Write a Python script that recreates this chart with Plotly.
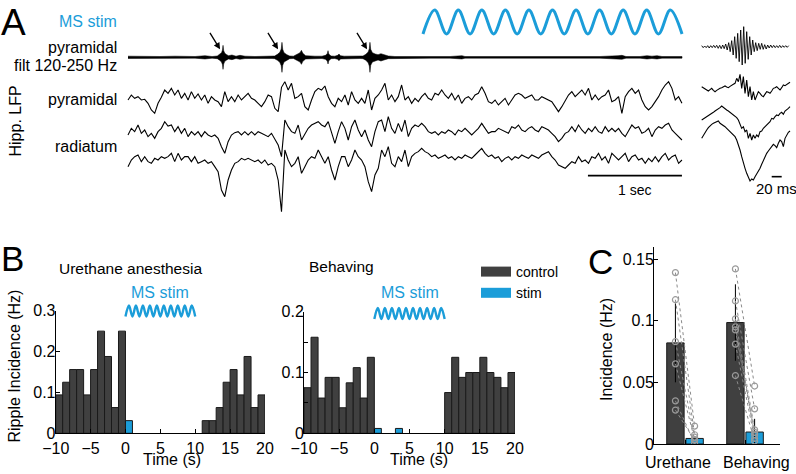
import numpy as np
import plotly.graph_objects as go

W, H = 796, 474


def px(x):
    return x / W


def py(y):
    return 1 - y / H


# ---------------- DATA ----------------
# Panel A: LFP traces (arbitrary units), uniformly sampled
lfp_dt = 0.0355  # s per sample
lfp_pyr = [0, 15, 5, 10, 0, 2, -10, -30, -40, -10,
           8, 30, 20, 35, 15, 30, 5, 20, 0, 25,
           5, 18, 0, 15, -10, 10, 0, -5, -20, 25,
           -5, 10, -5, 15, 0, 10, 20, 5, 0, -10,
           -20, -5, 15, 10, -25, -35, 38, 55, 30, 50,
           5, 10, 20, -20, -30, 0, 25, 35, 30, 42,
           10, -10, -20, 5, -5, 15, -15, 25, 0, -10,
           5, -10, 30, -30, 5, 15,
           30, 50, 0, 15, -5, 10, 45, 0, 10, -10,
           5, -5, 10, 20, 5, 0, 20, 15, 30, 15,
           5, 20, 0, 15, -10, 5, 10, 0, 15, 20,
           40, 20, -5, -10, 0, -15, -5, 5, -15, 0,
           15, 20, 15, 5, 10, 15, 0, 0, 10, 5,
           0, -5, -20, -35, -20, 0, 15, 25, 10, 20,
           30, 15, 35, 0, 15, 0, 10, 15, 30, -5,
           0, 10, -40, 10, 25, 35, 20, 30, 0, -20,
           -30, -20, -5, 10, 30, 45, 55, 35, 0, 10,
           -10]
lfp_rad1 = [-10, 10, 0, 20, -5, 5, -15, -5, -20, 0,
            10, 30, 17, 20, 0, 15, -5, 10, -15, 0,
            -10, 0, -15, 0, -10, -15, -10, -20, -45, -65,
            -30, -10, -3, 0, -10, 0, -10, 0, -10, 0,
            -5, -10, -15, -5, -25, -40, -75, 35, 15, 0,
            -5, 20, -25, -5, 10, 20, 25, 30, 20, 15,
            30, -5, -35, 0, 30, 10, -25, 15, 35, 5,
            -15, 5, -25, -45, 0, 30,
            35, 0, 45, 10, -5, 25, 0, 35, -15, 10,
            20, 15, 25, 15, 0, -5, 0, -10, 0, -5,
            5, 0, -10, 5, 0, 10, 0, -10, 0, 10,
            25, 10, -5, 0, 0, 10, 5, 0, -5, 15,
            10, 20, 5, 0, 10, 15, 5, 0, 15, 10,
            5, -5, -15, -30, -20, -5, 0, 15, 0, 20,
            5, -5, 10, 0, 15, 0, -5, 15, 0, 10,
            0, 10, -5, -15, 5, 20, 10, 15, -5, 0,
            10, -15, 5, 15, 10, 20, 25, 5, -5, -15,
            -25]
lfp_rad2 = [-25, -5, 5, 10, -10, 5, -10, -15, 0, -5,
            5, 0, 5, 15, -10, 15, -5, 5, 5, -10,
            5, -15, -10, -5, -15, -10, -25, -40, -95, -115,
            -65, -35, -15, -10, 0, -5, 0, -5, -10, -5,
            -15, -5, -20, -15, -25, -65, -160, 25, -5, -25,
            -15, 5, -45, -25, -5, 5, 0, 25, 5, -15,
            5, -35, -65, -25, 5, 5, -25, -5, 25, 5,
            -5, -25, -70, -100, -50, -30,
            25, 5, 35, -15, -25, 5, -10, 25, -25, 5,
            15, 20, 30, 20, 15, 5, 10, 0, 5, 10,
            0, 5, -5, 5, 0, 10, 5, 0, 10, 20,
            30, 15, 5, 10, 0, 5, -10, 0, 5, -5,
            5, 0, 10, 5, 0, 10, 5, 0, 10, 15,
            20, 5, -5, -20, -25, -30, -20, -10, -15, 5,
            -10, -5, -15, 5, 0, 15, -5, 5, -15, 15,
            5, -5, 5, 15, -10, 5, 10, -5, 0, -15,
            0, -10, 5, -10, 5, 15, -5, 5, 10, -15,
            -5]
# ripple-band (120-250 Hz) envelope of the pyramidal trace
filt_env_t = [0, 0.128, 0.234, 0.340, 0.500, 0.606, 0.713, 0.819, 0.894,
              0.950, 0.975, 0.995, 1.005, 1.011, 1.018, 1.030, 1.050, 1.070, 1.106, 1.149,
              1.191, 1.245, 1.351, 1.457, 1.532,
              1.560, 1.590, 1.615, 1.630, 1.638, 1.646, 1.660, 1.690, 1.720, 1.760,
              1.798, 1.830, 1.845, 1.860, 1.890, 1.930, 1.989, 2.064,
              2.100, 2.120, 2.128, 2.136, 2.160, 2.200, 2.230, 2.245, 2.260, 2.300,
              2.362, 2.468, 2.500, 2.530, 2.555, 2.567, 2.574, 2.582, 2.600, 2.630,
              2.660, 2.691, 2.723, 2.770, 2.840, 3.000, 3.213, 3.426, 3.553, 3.585,
              3.851, 4.170, 4.596, 5.021, 5.213, 5.255, 5.298, 5.447, 5.521, 5.574,
              5.628, 5.681, 5.894]
filt_env = [3.5, 2.5, 3.5, 2.5, 3.5, 2.5, 2.5, 5, 2.5,
            4, 9, 14, 22, 36, 20, 12, 8, 5, 7, 3.5,
            6, 3.5, 2.5, 3.5, 3.5,
            4, 9, 15, 25, 45, 24, 14, 8, 4, 3.5,
            8, 14, 21, 12, 5, 3.5, 3.5, 3.5,
            6, 11, 20, 10, 4, 3.5, 6, 10, 5, 3.5,
            3.5, 3.5, 4, 9, 16, 26, 45, 24, 14, 10,
            8, 11, 8, 4, 2.5, 2.5, 2.5, 2.5, 5, 2.5,
            2.5, 2.5, 2.5, 2.5, 5, 6, 2.5, 2.5, 5, 3.5,
            5, 2.5, 2.5]
ripple_times = [0.979, 1.596, 2.543]
# MS stimulation (extrema of the sinusoidal drive)
stim_ext_t = [3.138, 3.263, 3.389, 3.514, 3.639, 3.764, 3.890, 4.015, 4.140, 4.265,
              4.391, 4.516, 4.641, 4.767, 4.892, 5.017, 5.142, 5.268, 5.393, 5.518,
              5.643, 5.769, 5.894]
stim_ext_v = [-1, 1, -1, 1, -1, 1, -1, 1, -1, 1, -1, 1,
              -1, 1, -1, 1, -1, 1, -1, 1, -1, 1, -1]

# Panel A insets: average ripple (ms sampling)
inset_dt = 3.333
inset_filt_dt = 3.0
inset_filt = [3, -3, 2, -3, 3, -4, 3, -3, 4, -3, 4, -5, 4, -6, 5, -6, 8, -10, 12, -15,
              18, -25, 30, -35, 40, -45, 50, -55, 60, -50, 45, -38, 30, -25, 20, -15, 12, -12, 10, -8,
              10, -8, 6, -7, 5, -4, 5, -3, 4, -3, 3, -3, 4, -3, 3, -2, 3, -2, 3]
inset_pyr = [0, -3, -7, -10, -13, -9, -5, -11, -15, -11, -7, -5, -3, -1, 2, -1, -3, 1, 5, 7,
             10, 25, 15, 37, -5, 30, -20, 20, -30, 0, -40, -15, -40, -25, -15, -20, -27, -30, -20, -15,
             -17, -20, -13, -5, -3, 0, -5, -10, -3, 5, 3, 7, 10, 13]
inset_rad1 = [5, 8, 12, 15, 18, 22, 25, 28, 32, 35, 38, 42, 47, 42, 38, 35, 32, 28, 25, 22,
              18, 12, 5, -5, -20, -15, -30, -25, -50, -35, -55, -40, -50, -40, -45, -30, -28, -20, -15, -10,
              -2, 0, 10, 8, 15, 20, 18, 25, 28, 22, 32, 35, 40, 45]
inset_rad2 = [0, 10, 18, 25, 32, 38, 42, 45, 48, 50, 52, 45, 42, 40, 35, 30, 25, 22, 18, 12,
              5, -5, -18, -35, -55, -75, -90, -105, -120, -128, -122, -125, -115, -108, -100, -90, -78, -65, -55, -45,
              -38, -32, -25, -18, -22, -28, -15, -5, -10, -25, 0, 10, 18, 22]

# Panel B: ripple incidence histograms (1-s bins, left edges)
ure_ctrl_t = [-10, -9, -8, -7, -6, -5, -4, -3, -2, -1, 11, 12, 13, 14, 15, 16, 17, 18, 19]
ure_ctrl_h = [0.094, 0.125, 0.156, 0.156, 0.094, 0.156, 0.25, 0.188, 0.063, 0.25,
              0.031, 0.031, 0.063, 0.125, 0.156, 0.094, 0.188, 0.063, 0.094]
ure_stim_t = [0]
ure_stim_h = [0.031]
beh_ctrl_t = [-10, -9, -8, -7, -6, -5, -4, -3, -2, -1, 10, 11, 12, 13, 14, 15, 16, 17, 18, 19]
beh_ctrl_h = [0.075, 0.158, 0.058, 0.092, 0.092, 0.042, 0.083, 0.108, 0.058, 0.125,
              0.067, 0.125, 0.092, 0.1, 0.1, 0.125, 0.1, 0.092, 0.075, 0.1]
beh_stim_t = [0, 3]
beh_stim_h = [0.008, 0.008]
bstim_ext_t = [0, 0.5, 1, 1.5, 2, 2.5, 3, 3.5, 4, 4.5, 5, 5.5, 6, 6.5, 7, 7.5, 8, 8.5, 9, 9.5, 10]
bstim_ext_v = [-1, 1, -1, 1, -1, 1, -1, 1, -1, 1, -1, 1, -1, 1, -1, 1, -1, 1, -1, 1, -1]
legend_names = ['control', 'stim']

# Panel C: incidence summary
c_groups = ['Urethane', 'Behaving']
c_ctrl_mean = [0.082, 0.0985]
c_ctrl_err = [0.032, 0.031]
c_stim_mean = [0.0045, 0.0097]
c_stim_err = [0.002, 0.0107]
c_ctrl_pts = [[0.139, 0.117, 0.083, 0.065, 0.035, 0.0275],
              [0.142, 0.116, 0.1015, 0.095, 0.0925, 0.081, 0.0555]]
c_stim_pts = [[0.0145, 0.0075, 0.0055, 0.0035, 0.0005, 0.003],
              [0.047, 0.0285, 0.0115, 0.0095, 0.0075, 0.0045, 0.0025]]

# ---------------- STYLE ----------------
BLUE = '#1B9DD9'
DARK = '#404040'
FONT = 'Liberation Sans, Arial, Helvetica, sans-serif'
OFF_STIM, AMP_STIM = -66, 36
OFF_FILT, OFF_PYR, OFF_RAD1, OFF_RAD2 = -172, -300, -395, -475
IOFF_FILT, IOFF_PYR, IOFF_RAD1, IOFF_RAD2 = -140, -260, -365, -415
COFF = 0.16

fig = go.Figure()
lfp_line = dict(color='black', width=1.1)

# ----- Panel A main traces -----
fig.add_trace(go.Scatter(x=stim_ext_t, y=OFF_STIM + AMP_STIM * np.array(stim_ext_v), mode='lines',
                         line=dict(color=BLUE, width=3, shape='spline', smoothing=1.0),
                         xaxis='x', yaxis='y', showlegend=False, hoverinfo='skip'))
et = np.array(filt_env_t)
ev = np.array(filt_env)
fig.add_trace(go.Scatter(x=np.concatenate([et, et[::-1]]),
                         y=np.concatenate([OFF_FILT + ev, (OFF_FILT - ev)[::-1]]),
                         mode='lines', fill='toself', fillcolor='black',
                         line=dict(color='black', width=0.5),
                         xaxis='x', yaxis='y', showlegend=False, hoverinfo='skip'))
for vals, off in [(lfp_pyr, OFF_PYR), (lfp_rad1, OFF_RAD1), (lfp_rad2, OFF_RAD2)]:
    t = np.arange(len(vals)) * lfp_dt
    fig.add_trace(go.Scatter(x=t, y=off + np.array(vals), mode='lines', line=lfp_line,
                             xaxis='x', yaxis='y', showlegend=False, hoverinfo='skip'))
# 1 sec scale bar
t_end = (len(lfp_pyr) - 1) * lfp_dt
fig.add_trace(go.Scatter(x=[t_end - 1.0, t_end], y=[-527, -527], mode='lines',
                         line=dict(color='black', width=1.6),
                         xaxis='x', yaxis='y', showlegend=False, hoverinfo='skip'))

# ----- Panel A insets -----
ti = np.arange(len(inset_filt)) * inset_filt_dt
fig.add_trace(go.Scatter(x=ti, y=IOFF_FILT + np.array(inset_filt), mode='lines',
                         line=dict(color='black', width=0.9),
                         xaxis='x2', yaxis='y2', showlegend=False, hoverinfo='skip'))
for vals, off in [(inset_pyr, IOFF_PYR), (inset_rad1, IOFF_RAD1), (inset_rad2, IOFF_RAD2)]:
    t = np.arange(len(vals)) * inset_dt
    fig.add_trace(go.Scatter(x=t, y=off + np.array(vals), mode='lines', line=lfp_line,
                             xaxis='x2', yaxis='y2', showlegend=False, hoverinfo='skip'))
fig.add_trace(go.Scatter(x=[140, 160], y=[-530, -530], mode='lines',
                         line=dict(color='black', width=1.6),
                         xaxis='x2', yaxis='y2', showlegend=False, hoverinfo='skip'))

# ----- Panel B histograms -----
bar_line = dict(color='#1a1a1a', width=1)
fig.add_trace(go.Bar(x=ure_ctrl_t, y=ure_ctrl_h, width=1, offset=0, name='control',
                     marker=dict(color=DARK, line=bar_line), xaxis='x3', yaxis='y3',
                     showlegend=False))
fig.add_trace(go.Bar(x=ure_stim_t, y=ure_stim_h, width=1, offset=0, name='stim',
                     marker=dict(color=BLUE, line=bar_line), xaxis='x3', yaxis='y3',
                     showlegend=False))
fig.add_trace(go.Bar(x=beh_ctrl_t, y=beh_ctrl_h, width=1, offset=0, name='control',
                     marker=dict(color=DARK, line=bar_line), xaxis='x4', yaxis='y4',
                     showlegend=False))
fig.add_trace(go.Bar(x=beh_stim_t, y=beh_stim_h, width=1, offset=0, name='stim',
                     marker=dict(color=BLUE, line=bar_line), xaxis='x4', yaxis='y4',
                     showlegend=False))
# legend swatches (wide, as in the original)
for name, col in zip(legend_names, [DARK, BLUE]):
    fig.add_trace(go.Scatter(x=[None], y=[None], mode='lines', name=name,
                             line=dict(color=col, width=10), xaxis='x3', yaxis='y3',
                             showlegend=True))
for xa, ya in [('x5', 'y5'), ('x6', 'y6')]:
    fig.add_trace(go.Scatter(x=bstim_ext_t, y=bstim_ext_v, mode='lines',
                             line=dict(color=BLUE, width=2.4, shape='spline', smoothing=1.0),
                             xaxis=xa, yaxis=ya, showlegend=False, hoverinfo='skip'))

# ----- Panel C -----
gpos = np.arange(1, len(c_groups) + 1)
fig.add_trace(go.Bar(x=gpos - COFF, y=c_ctrl_mean, width=0.29,
                     marker=dict(color=DARK, line=bar_line),
                     error_y=dict(type='data', array=c_ctrl_err, color='black', thickness=1, width=0),
                     xaxis='x7', yaxis='y7', showlegend=False))
fig.add_trace(go.Bar(x=gpos + COFF, y=c_stim_mean, width=0.29,
                     marker=dict(color=BLUE, line=bar_line),
                     error_y=dict(type='data', array=c_stim_err, color='black', thickness=1, width=0),
                     xaxis='x7', yaxis='y7', showlegend=False))
lx, ly = [], []
mx, my = [], []
for g, (cp, sp) in enumerate(zip(c_ctrl_pts, c_stim_pts)):
    for a, b in zip(cp, sp):
        lx += [gpos[g] - COFF, gpos[g] + COFF, None]
        ly += [a, b, None]
        mx += [gpos[g] - COFF, gpos[g] + COFF]
        my += [a, b]
fig.add_trace(go.Scatter(x=lx, y=ly, mode='lines', line=dict(color='#8a8a8a', width=1, dash='dot'),
                         xaxis='x7', yaxis='y7', showlegend=False, hoverinfo='skip'))
fig.add_trace(go.Scatter(x=mx, y=my, mode='markers',
                         marker=dict(symbol='circle-open', size=6, color='#9a9a9a', line=dict(width=1.2)),
                         xaxis='x7', yaxis='y7', showlegend=False, hoverinfo='skip'))

# ---------------- LAYOUT ----------------
hidden = dict(visible=False, showgrid=False, zeroline=False, fixedrange=True, automargin=False)
ax_style = dict(showline=True, linecolor='black', linewidth=1, ticks='inside', ticklen=4,
                tickcolor='black', tickwidth=1, showgrid=False, zeroline=False, automargin=False,
                tickfont=dict(size=16, color='black', family=FONT))
yax_style = dict(ax_style, ticklabelstandoff=-4)

layout = dict(
    template='none',
    width=W, height=H, margin=dict(l=0, r=0, t=0, b=0, pad=0, autoexpand=False),
    paper_bgcolor='white', plot_bgcolor='rgba(0,0,0,0)',
    font=dict(family=FONT, size=16, color='black'),
    barmode='overlay',
    xaxis=dict(hidden, domain=[px(120), px(690)], range=[-8 / 94, (690 - 128) / 94], anchor='y'),
    yaxis=dict(hidden, domain=[py(215), 1], range=[-645, 0], anchor='x'),
    xaxis2=dict(hidden, domain=[px(700), 1], range=[-3.4, 188.6], anchor='y2'),
    yaxis2=dict(hidden, domain=[py(215), 1], range=[-645, 0], anchor='x2'),
    xaxis3=dict(ax_style, domain=[px(55.7), px(265)], range=[-10, 20], anchor='y3',
                tickvals=[-10, -5, 0, 5, 10, 15, 20]),
    yaxis3=dict(yax_style, domain=[py(433.3), py(310.7)], range=[0, 0.3], anchor='x3',
                tickvals=[0, 0.1, 0.2, 0.3], ticktext=['0', '0.1', '0.2', '0.3']),
    xaxis4=dict(ax_style, domain=[px(304), px(515)], range=[-10, 20], anchor='y4',
                tickvals=[-10, -5, 0, 5, 10, 15, 20]),
    yaxis4=dict(yax_style, domain=[py(433.3), py(311.7)], range=[0, 0.2], anchor='x4',
                tickvals=[0, 0.05, 0.1, 0.15, 0.2], ticktext=['0', '', '0.1', '', '0.2']),
    xaxis5=dict(hidden, domain=[px(55.7), px(265)], range=[-10, 20], anchor='y5'),
    yaxis5=dict(hidden, domain=[py(322), py(300)], range=[-2, 2], anchor='x5'),
    xaxis6=dict(hidden, domain=[px(304), px(515)], range=[-10, 20], anchor='y6'),
    yaxis6=dict(hidden, domain=[py(324.5), py(302.5)], range=[-2, 2], anchor='x6'),
    xaxis7=dict(ax_style, domain=[px(654), px(780)], range=[0.483, 2.583], anchor='y7',
                tickvals=list(gpos), showticklabels=False),
    yaxis7=dict(yax_style, domain=[py(444), py(246.7)], range=[0, 0.16], anchor='x7',
                tickvals=[0, 0.05, 0.1, 0.15], ticktext=['0', '0.05', '0.1', '0.15']),
    legend=dict(x=px(476), y=py(256), xanchor='left', yanchor='top',
                font=dict(size=14, family=FONT, color='black'), bgcolor='rgba(0,0,0,0)',
                tracegroupgap=0, itemclick=False, borderwidth=0, itemwidth=30),
    showlegend=True,
)
fig.update_layout(layout)


def note(text, x, y, size=16, color='black', xanchor='center', yanchor='middle', angle=0,
         xref='paper', yref='paper'):
    fig.add_annotation(text=text, x=x, y=y, xref=xref, yref=yref, showarrow=False,
                       font=dict(size=size, color=color, family=FONT),
                       xanchor=xanchor, yanchor=yanchor, textangle=angle)


# Panel A labels
note('A', px(13), py(23), size=37)
note('MS stim', px(119), py(22), color=BLUE, xanchor='right')
note('pyramidal', px(119), py(47), xanchor='right')
note('filt 120-250 Hz', px(119), py(65), xanchor='right')
note('pyramidal', px(119), py(100), xanchor='right')
note('radiatum', px(119), py(146), xanchor='right')
note('Hipp. LFP', px(14.5), py(121), angle=-90)
note('1 sec', t_end - 0.5, py(190), size=14, xref='x')
note('20 ms', 150, py(188), size=15, xref='x2')
for rt in ripple_times:
    fig.add_annotation(x=rt, y=OFF_FILT + 24, xref='x', yref='y', text='', showarrow=True,
                       ax=-11, ay=-18, arrowhead=2, arrowsize=1, arrowwidth=1.3,
                       arrowcolor='black', standoff=0)

# Panel B labels
note('B', px(12), py(258), size=35)
note('Urethane anesthesia', px(57), py(268), size=15.5, xanchor='left')
note('Behaving', px(307), py(266), size=15.5, xanchor='left')
note('MS stim', 5, py(292), color=BLUE, xref='x3')
note('MS stim', 5, py(292.5), color=BLUE, xref='x4')
note('Ripple Incidence (Hz)', px(13.5), py(366), angle=-90)
note('Time (s)', px(172), py(459))
note('Time (s)', px(419), py(459))

# Panel C labels
note('C', px(600), py(261), size=35)
note('Incidence (Hz)', px(606), py(350), angle=-90)
note(c_groups[0], px(677.5), py(462))
note(c_groups[1], px(756.5), py(462))

fig.write_html('out.html', config={'displayModeBar': False, 'staticPlot': True},
               post_script="document.body.style.margin='0px';document.body.style.overflow='hidden';")
